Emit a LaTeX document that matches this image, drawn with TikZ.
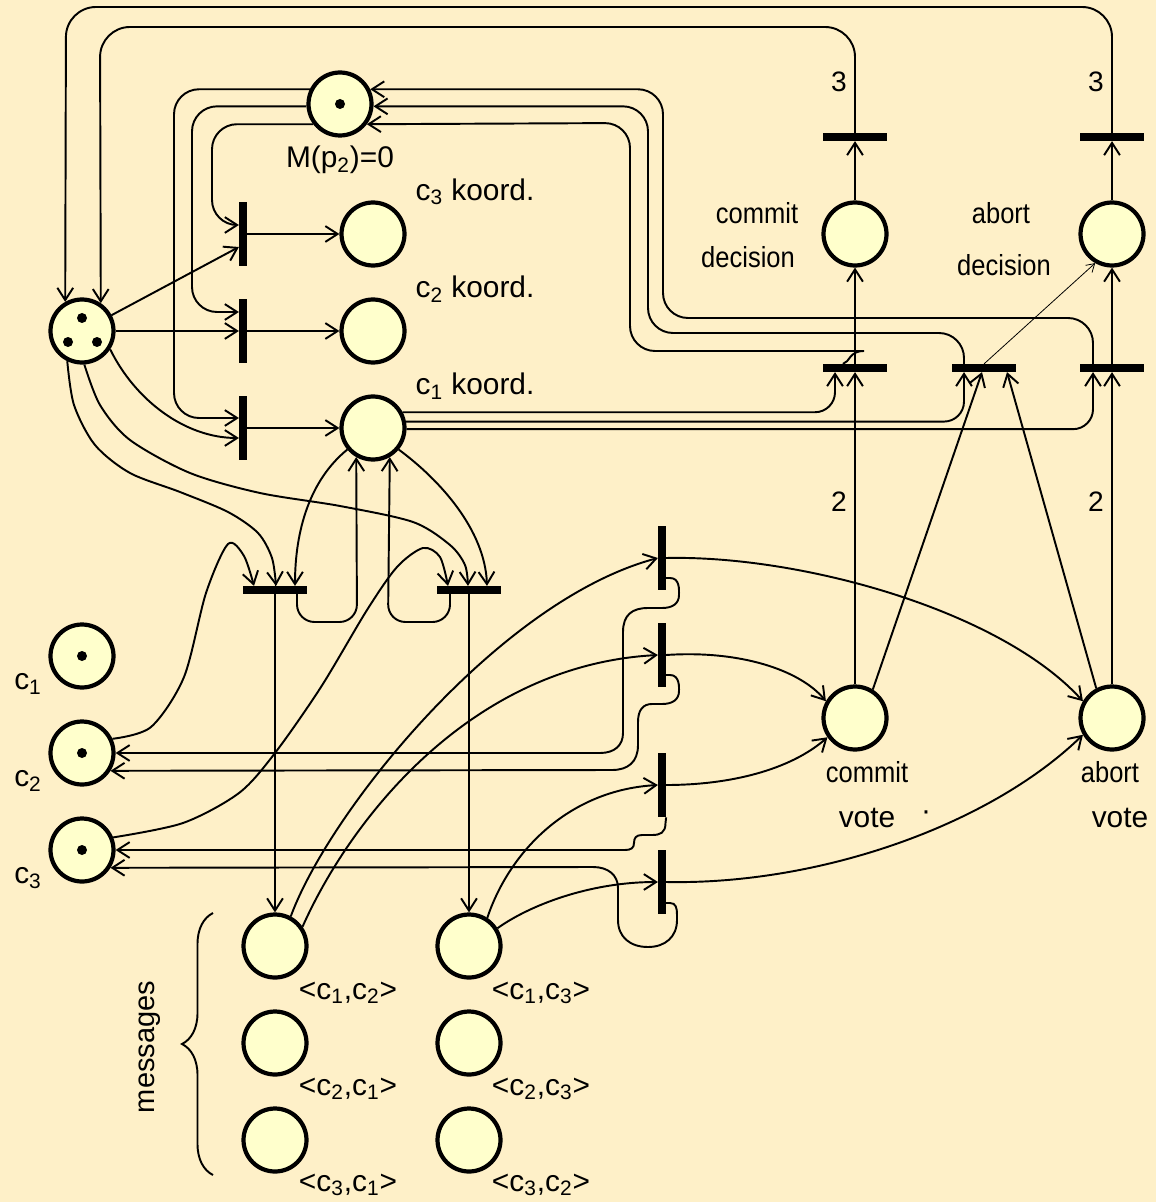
\documentclass[tikz,border=0pt]{standalone}
\usepackage{fontspec}
\setmainfont{Liberation Sans}
\usepackage{graphicx}
\usepackage{tikz}
\usetikzlibrary{arrows.meta, decorations.pathreplacing}
\definecolor{bgCream}{HTML}{FEF0C8}
\definecolor{placeFill}{HTML}{FFFFCC}
\newcommand{\squeeze}[1]{\scalebox{0.88}[1]{#1}}

\begin{document}
\begin{tikzpicture}[x=0.02cm, y=-0.02cm,
  every node/.style={font=\fontsize{17}{20}\selectfont},
  place/.style={circle, draw, line width=2.4pt, fill=placeFill, minimum size=1.26cm, inner sep=0pt},
  vbar/.style={fill=black, minimum width=0.15cm, minimum height=1.28cm, inner sep=0pt},
  hbar/.style={fill=black, minimum width=1.28cm, minimum height=0.15cm, inner sep=0pt},
  flow/.style={line width=1.1pt, -{Straight Barb[length=7pt, width=9pt]}},
  thin flow/.style={line width=0.45pt, -{Straight Barb[length=4.5pt, width=5.5pt]}},
  numlabel/.style={font=\fontsize{16}{18}\selectfont},
  declabel/.style={font=\fontsize{16.5}{19}\selectfont}]
  \useasboundingbox (0,0) rectangle (1156,1202);
  \fill[bgCream] (0,0) rectangle (1156,1202);

  % places and transitions
  \node[place] (p2) at (340,104) {};
  \node[place] (pool) at (82,331) {};
  \node[place] (k3) at (373,234) {};
  \node[place] (k2) at (373,331) {};
  \node[place] (k1) at (373,428) {};
  \node[vbar] (t3) at (243,234) {};
  \node[vbar] (t2) at (243,331) {};
  \node[vbar] (t1) at (243,428) {};
  \node[place] (cdec) at (855,234) {};
  \node[place] (adec) at (1112,234) {};
  \node[hbar] (tcTop) at (855,137) {};
  \node[hbar] (taTop) at (1112,137) {};
  \node[hbar] (tcom) at (855,368) {};
  \node[hbar] (tmix) at (984,368) {};
  \node[hbar] (tabo) at (1112,368) {};
  \node[place] (cvote) at (855,718) {};
  \node[place] (avote) at (1112,718) {};
  \node[hbar] (tA) at (275,590) {};
  \node[hbar] (tB) at (469,590) {};
  \node[place] (c1) at (82,656) {};
  \node[place] (c2) at (82,753) {};
  \node[place] (c3) at (82,850) {};
  \node[place] (m12) at (275,946) {};
  \node[place] (m21) at (275,1043) {};
  \node[place] (m31) at (275,1140) {};
  \node[place] (m13) at (469,946) {};
  \node[place] (m23) at (469,1043) {};
  \node[place] (m32) at (469,1140) {};
  \node[vbar] (v1) at (662,558) {};
  \node[vbar] (v2) at (662,655) {};
  \node[vbar] (v3) at (662,785) {};
  \node[vbar] (v4) at (662,882) {};

  % tokens
  \fill (p2) circle (0.1cm);
  \fill (82,318) circle (0.1cm); \fill (68,342) circle (0.1cm); \fill (97,342) circle (0.1cm);
  \fill (c1) circle (0.1cm); \fill (c2) circle (0.1cm); \fill (c3) circle (0.1cm);

  % labels
  \node (lM) at (340,160) {M(p\textsubscript{2})=0};
  \node (lk3) at (475,192) {c\textsubscript{3} koord.};
  \node (lk2) at (475,289) {c\textsubscript{2} koord.};
  \node (lk1) at (475,386) {c\textsubscript{1} koord.};
  \node[declabel] (lcd1) at (757,213) {\squeeze{commit}};
  \node[declabel] (lcd2) at (748,257) {\squeeze{decision}};
  \node[declabel] (lad1) at (1001,213) {\squeeze{abort}};
  \node[declabel] (lad2) at (1004,265) {\squeeze{decision}};
  \node[numlabel] (n3a) at (839,82) {3};
  \node[numlabel] (n3b) at (1096,82) {3};
  \node[numlabel] (n2a) at (839,502) {2};
  \node[numlabel] (n2b) at (1096,502) {2};
  \node[declabel] (lcv1) at (867,772) {\squeeze{commit}};
  \node (lcv2) at (867,818) {vote};
  \node (ldot) at (926,816) {·};
  \node[declabel] (lav1) at (1110,772) {\squeeze{abort}};
  \node (lav2) at (1120,818) {vote};
  \node (lc1) at (28,684) {c\textsubscript{1}};
  \node (lc2) at (28,781) {c\textsubscript{2}};
  \node (lc3) at (28,878) {c\textsubscript{3}};
  \node (l12) at (348,993) {<c\textsubscript{1},c\textsubscript{2}>};
  \node (l21) at (348,1089) {<c\textsubscript{2},c\textsubscript{1}>};
  \node (l31) at (348,1185) {<c\textsubscript{3},c\textsubscript{1}>};
  \node (l13) at (541,993) {<c\textsubscript{1},c\textsubscript{3}>};
  \node (l23) at (541,1089) {<c\textsubscript{2},c\textsubscript{3}>};
  \node (l32) at (541,1185) {<c\textsubscript{3},c\textsubscript{2}>};
  \draw[decorate, decoration={brace, amplitude=0.62cm}, line width=1.1pt] (213,1175) -- (213,913);
  \node[rotate=90, declabel] (lmsg) at (150,1047) {messages};

  % coordinator start
  \draw[flow] (pool) -- (t3.west |- 0,247);
  \draw[flow] (pool) -- (t2.west);
  \draw[flow] (pool.-33) .. controls (135,400) and (185,438) .. (t1.west |- 0,438);
  \draw[flow] (t3) -- (k3);
  \draw[flow] (t2) -- (k2);
  \draw[flow] (t1) -- (k1);
  \draw[flow, rounded corners=0.5cm] (p2.154) -| (174,418) -- (t1.west |- 0,418);
  \draw[flow, rounded corners=0.5cm] (p2.184) -| (192,312) -- (t2.west |- 0,312);
  \draw[flow, rounded corners=0.5cm] (p2.217) -| (212,225) -- (t3.west |- 0,225);

  % decisions
  \draw[flow, rounded corners=0.6cm] (tcTop.north) |- (100,27) -- (pool.56);
  \draw[flow, rounded corners=0.6cm] (taTop.north) |- (66,7) -- (pool.120);
  \draw[flow] (cdec) -- (tcTop);
  \draw[flow] (adec) -- (taTop);
  \draw[flow] (tcom) -- (cdec);
  \draw[flow] (tabo) -- (adec);
  \draw[thin flow] (tmix.north) -- (adec.-120);
  \draw[flow] (cvote) -- (tcom);
  \draw[flow] (avote) -- (tabo);
  \draw[flow] (cvote.58) -- (tmix.south -| 982,0);
  \draw[flow] (avote.118) -- (tmix.south -| 1007,0);
  \draw[flow, rounded corners=0.4cm] (k1.28) -| (tcom.south -| 835,0);
  \draw[flow, rounded corners=0.4cm] (k1.11) -| (tmix.south -| 964,0);
  \draw[flow, rounded corners=0.4cm] (k1.-2) -| (tabo.south -| 1093,0);
  \draw[flow, rounded corners=0.5cm] (tabo.north -| 1093,0) |- (663,318) |- (p2.26);
  \draw[flow, rounded corners=0.5cm] (tmix.north -| 964,0) |- (648,333) |- (p2.-4);
  \draw[flow, rounded corners=0.5cm] (tcom.north -| 843,0) .. controls (850,362) and (849,351) .. (839,351) -| (630,123) -- (p2.-37);

  % messages out
  \draw[flow] plot[smooth] coordinates {(pool.-116) (74,405) (95,445) (130,473) (180,492) (228,512) (258,533) (272,558) (tA.north -| 276,0)};
  \draw[flow] plot[smooth] coordinates {(pool.-86) (100,405) (130,440) (190,473) (260,493) (340,506) (413,522) (450,545) (465,565) (tB.north -| 468,0)};
  \draw[flow] (k1.-140) .. controls (310,480) and (295,530) .. (tA.north -| 295,0);
  \draw[flow] (k1.-40) .. controls (440,480) and (485,530) .. (tB.north -| 487,0);
  \draw[flow, rounded corners=0.35cm] (tA.south -| 297,0) |- (357,622) -- (k1.-120);
  \draw[flow, rounded corners=0.35cm] (tB.south -| 450,0) |- (388,622) -- (k1.-60);
  \draw[flow] plot[smooth] coordinates {(c2.25) (151,727) (184,677) (206,593) (228,544) (244,556) (tA.north -| 254,0)};
  \draw[flow] plot[smooth] coordinates {(c3.22) (183,823) (239,793) (275,753) (321,687) (367,610) (397,567) (423,548) (440,557) (tB.north -| 448,0)};
  \draw[flow] (tA) -- (m12);
  \draw[flow] (tB) -- (m13);

  % votes
  \draw[flow] (m12.62) .. controls (330,810) and (500,600) .. (v1.west);
  \draw[flow] (m12.35) .. controls (350,820) and (470,665) .. (v2.west);
  \draw[flow] (m13.57) .. controls (510,850) and (570,790) .. (v3.west);
  \draw[flow] (m13.32) .. controls (530,905) and (590,882) .. (v4.west);
  \draw[flow] (v1.east) .. controls (800,555) and (1000,610) .. (avote.150);
  \draw[flow] (v2.east) .. controls (740,650) and (800,670) .. (cvote.150);
  \draw[flow] (v3.east) .. controls (730,785) and (790,770) .. (cvote.-145);
  \draw[flow] (v4.east) .. controls (820,885) and (990,825) .. (avote.-150);
  \draw[flow] (v1.east |- 0,578) -- (670,578) .. controls (680,578) and (679,590) .. (679,595) .. controls (679,604) and (672,608) .. (662,608) -- (648,608) .. controls (632,608) and (623,615) .. (623,632) -- (623,733) .. controls (623,745) and (615,753) .. (600,753) -- (c2.east);
  \draw[flow] (v2.east |- 0,675) -- (670,675) .. controls (680,675) and (679,688) .. (679,691) .. controls (679,700) and (672,704) .. (662,704) -- (652,704) .. controls (643,704) and (638,710) .. (638,722) -- (638,745) .. controls (638,762) and (628,770) .. (612,770) -- (c2.-32);
  \draw[flow] (v3.south east) -- (665.5,823) .. controls (665.5,833) and (660,835) .. (652,835) -- (642,835) .. controls (636,835) and (634,838) .. (634,843) .. controls (634,848) and (631,850) .. (625,850) -- (c3.east);
  \draw[flow] (v4.east |- 0,903) -- (670,903) .. controls (676,903) and (677,908) .. (677,915) -- (677,920) .. controls (677,937) and (665,947) .. (648,947) .. controls (630,947) and (618,937) .. (618,920) -- (618,888) .. controls (618,875) and (608,867) .. (593,867) -- (c3.-32);
\end{tikzpicture}
\end{document}
